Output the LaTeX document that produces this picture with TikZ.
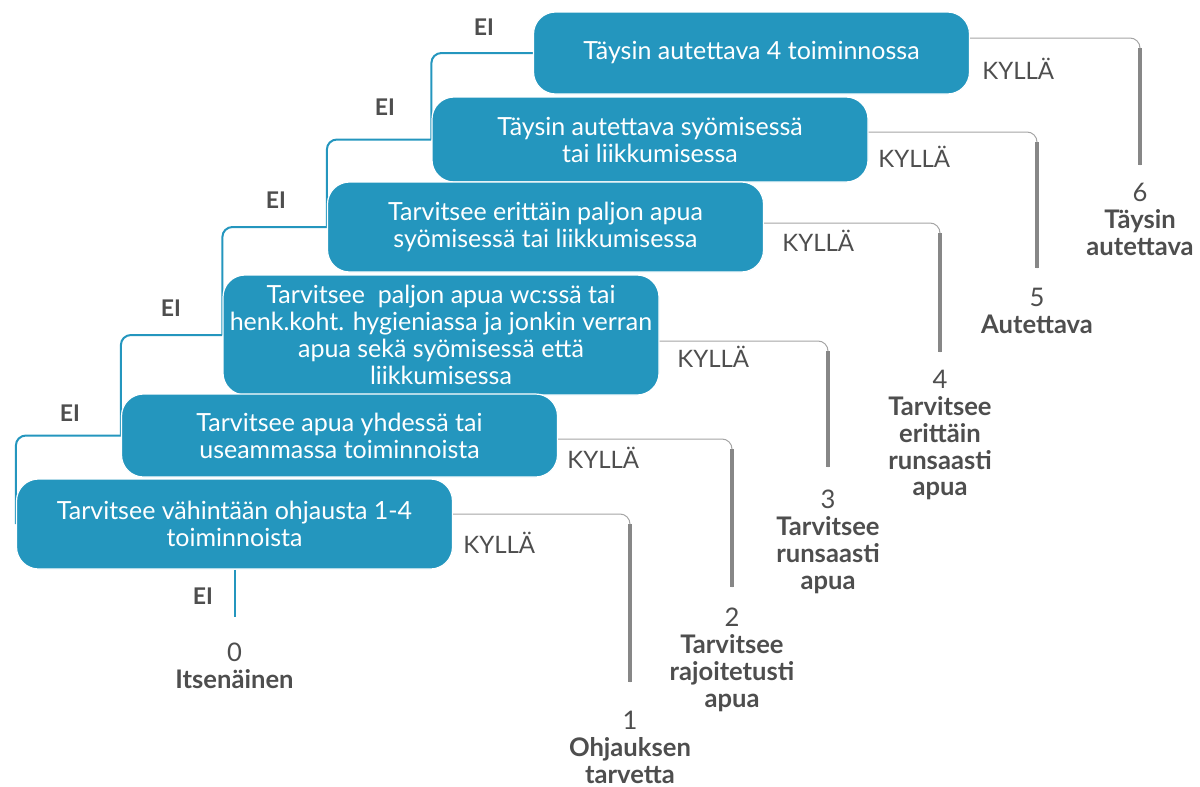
\documentclass[tikz,border=0pt]{standalone}
\usepackage{fontspec}
\setmainfont{Lato}
\usetikzlibrary{positioning,backgrounds}
\definecolor{turkoosi}{RGB}{36,150,190}
\definecolor{tekstiharmaa}{RGB}{78,78,78}
\definecolor{viivaharmaa}{RGB}{135,135,135}
\tikzset{
  askel/.style={rectangle, rounded corners=11pt, fill=turkoosi, draw=white, line width=0.6pt,
    text=white, align=center, minimum width=218pt, inner sep=0pt,
    font=\fontsize{12.5}{13.5}\selectfont},
  eiviiva/.style={draw=turkoosi, line width=1pt, rounded corners=5pt},
  ohutviiva/.style={draw=viivaharmaa!75, line width=0.5pt, rounded corners=5pt},
  paksuviiva/.style={draw=viivaharmaa, line width=1.6pt},
  eiteksti/.style={text=tekstiharmaa, inner sep=0pt, font=\fontsize{11.5}{12}\selectfont\bfseries},
  kylteksti/.style={text=tekstiharmaa, anchor=north west, inner sep=0pt, font=\fontsize{12}{13}\selectfont},
  tulos/.style={text=tekstiharmaa, align=center, inner sep=0pt, font=\fontsize{12.8}{13.4}\selectfont}
}
\begin{document}
\begin{tikzpicture}[x=0.5pt, y=-0.5pt]
  \useasboundingbox (0,0) rectangle (1200,787);
  % portaat
  \node[askel, minimum height=41pt]   (b6) at (751.5,53)  {Täysin autettava 4 toiminnossa};
  \node[askel, minimum height=42.5pt] (b5) at (650,139.5) {Täysin autettava syömisessä\\tai liikkumisessa};
  \node[askel, minimum height=45pt]   (b4) at (545.5,227) {Tarvitsee erittäin paljon apua\\syömisessä tai liikkumisessa};
  \node[askel, minimum height=60pt]   (b3) at (441,335)   {Tarvitsee \ paljon apua wc:ssä tai\\henk.koht. hygieniassa ja jonkin verran\\apua sekä syömisessä että\\liikkumisessa};
  \node[askel, minimum height=41.5pt] (b2) at (339.5,435.5) {Tarvitsee apua yhdessä tai\\useammassa toiminnoista};
  \node[askel, minimum height=45pt]   (b1) at (234.5,524) {Tarvitsee vähintään ohjausta 1-4\\toiminnoista};
  % KYLLÄ-haarojen kulmat ja päät
  \coordinate (c6) at (1140,38);  \coordinate (p6) at (1140,165);
  \coordinate (c5) at (1037,132); \coordinate (p5) at (1037,268);
  \coordinate (c4) at (940,223);  \coordinate (p4) at (940,352);
  \coordinate (c3) at (828,341);  \coordinate (p3) at (828,467);
  \coordinate (c2) at (732,439);  \coordinate (p2) at (732,587);
  \coordinate (c1) at (630,514);  \coordinate (p1) at (630,682);
  \coordinate (p0) at (234.5,617);
  \begin{scope}[on background layer]
    \foreach \n/\m in {6/5,5/4,4/3,3/2,2/1} {\draw[eiviiva] (b\n.west) -| (b\m.west);}
    \draw[eiviiva] (b1.south) -- (p0);
  \end{scope}
  \foreach \n in {1,...,6} {
    \draw[ohutviiva] (b\n.east |- c\n) -- (c\n) -- (p\n);
    \draw[paksuviiva] ([yshift=-5pt]c\n) -- (p\n);
  }
  % EI
  \node[eiteksti] (ei6) at (484,27)  {EI};
  \node[eiteksti] (ei5) at (385,107) {EI};
  \node[eiteksti] (ei4) at (276,200) {EI};
  \node[eiteksti] (ei3) at (171,308) {EI};
  \node[eiteksti] (ei2) at (70,413)  {EI};
  \node[eiteksti] (ei1) at (203,596) {EI};
  % KYLLÄ
  \node[kylteksti] (kyl6) at (982,58)  {KYLLÄ};
  \node[kylteksti] (kyl5) at (878,146) {KYLLÄ};
  \node[kylteksti] (kyl4) at (782,230) {KYLLÄ};
  \node[kylteksti] (kyl3) at (677,346) {KYLLÄ};
  \node[kylteksti] (kyl2) at (567,447) {KYLLÄ};
  \node[kylteksti] (kyl1) at (463,532) {KYLLÄ};
  % tulokset
  \node[tulos, below=9pt of p6]    (t6) {6\\\textbf{Täysin}\\\textbf{autettava}};
  \node[tulos, below=10pt of p5]   (t5) {5\\\textbf{Autettava}};
  \node[tulos, below=9pt of p4]    (t4) {4\\\textbf{Tarvitsee}\\\textbf{erittäin}\\\textbf{runsaasti}\\\textbf{apua}};
  \node[tulos, below=11.5pt of p3] (t3) {3\\\textbf{Tarvitsee}\\\textbf{runsaasti}\\\textbf{apua}};
  \node[tulos, below=10.5pt of p2] (t2) {2\\\textbf{Tarvitsee}\\\textbf{rajoitetusti}\\\textbf{apua}};
  \node[tulos, below=14.5pt of p1] (t1) {1\\\textbf{Ohjauksen}\\\textbf{tarvetta}};
  \node[tulos, below=13pt of p0]   (t0) {0\\\textbf{Itsenäinen}};
\end{tikzpicture}
\end{document}
